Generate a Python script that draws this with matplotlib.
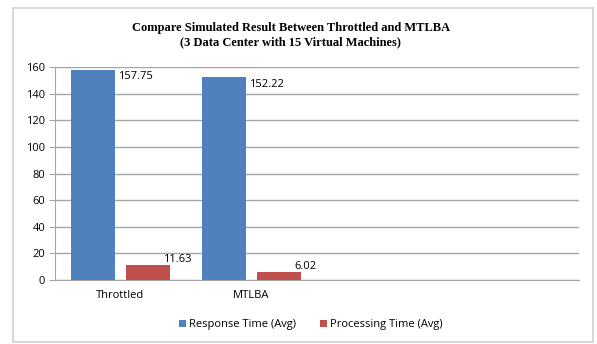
import numpy as np
import matplotlib.pyplot as plt
from matplotlib.patches import Rectangle

categories = ['Throttled', 'MTLBA', '', '']
response_avg = [157.75, 152.22]
processing_avg = [11.63, 6.02]
series_names = ['Response Time (Avg)', 'Processing Time (Avg)']
title = 'Compare Simulated Result Between Throttled and MTLBA\n(3 Data Center with 15 Virtual Machines)'

blue = '#4F81BD'
red = '#C0504D'
grid = '#A6A6A6'

plt.rcParams['font.family'] = ['Open Sans', 'DejaVu Sans']

fig = plt.figure(figsize=(5.97, 3.44), dpi=100)
fig.patches.append(Rectangle((13 / 597, 1 - 342 / 344), 580 / 597, 334 / 344,
                             transform=fig.transFigure, fill=False,
                             edgecolor='#D0D0D0', linewidth=1.2))

ax = fig.add_axes([55 / 597, 1 - 280 / 344, 524 / 597, 213 / 344])

x = np.arange(len(categories))
n = len(response_avg)
w = 0.335
b1 = ax.bar(x[:n] - 0.21, response_avg, width=w, color=blue, label=series_names[0], zorder=3)
b2 = ax.bar(x[:n] + 0.21, processing_avg, width=w, color=red, label=series_names[1], zorder=3)

for r, v in zip(b1, response_avg):
    ax.annotate(f'{v:.2f}', (r.get_x() + r.get_width(), v), xytext=(2, -1),
                textcoords='offset points', ha='left', va='top', fontsize=8)
for r, v in zip(b2, processing_avg):
    ax.annotate(f'{v:.2f}', (r.get_x() + r.get_width(), v), xytext=(-5, 0),
                textcoords='offset points', ha='left', va='bottom', fontsize=8)

ax.set_xlim(-0.5, len(categories) - 0.5)
ax.set_ylim(0, 160)
ax.set_yticks(range(0, 161, 20))
ax.set_xticks(x[:n])
ax.set_xticklabels(categories[:n])
ax.yaxis.grid(True, color=grid, linewidth=1.0, zorder=0)
for s in ['top', 'right']:
    ax.spines[s].set_visible(False)
ax.spines['left'].set_color(grid)
ax.spines['bottom'].set_color(grid)
ax.tick_params(axis='y', length=4, color=grid, labelsize=8, pad=3)
ax.tick_params(axis='x', length=0, labelsize=8, pad=7)

fig.text(0.487, 1 - 35 / 344, title, ha='center', va='center', fontsize=9,
         fontweight='bold', family='Liberation Serif', linespacing=1.2)

fig.legend(loc='center', bbox_to_anchor=(311 / 597, 1 - 325 / 344), ncol=2,
           frameon=False, fontsize=8, handlelength=0.6, handleheight=0.6,
           handletextpad=0.3, columnspacing=2.2)

fig.savefig('out.png', dpi=100)
